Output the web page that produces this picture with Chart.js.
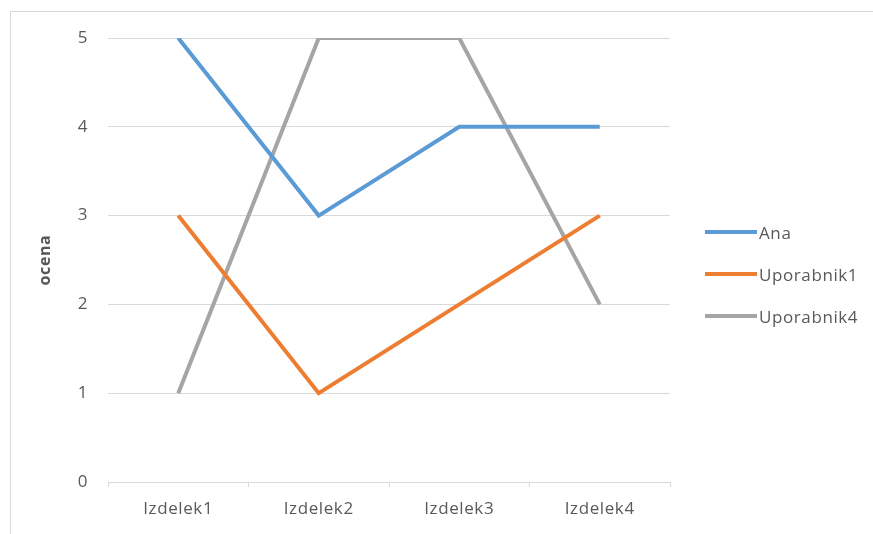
<!DOCTYPE html>
<html>
<head>
<meta charset="utf-8">
<script src="https://cdn.jsdelivr.net/npm/chart.js@4"></script>
<style>
    html, body { margin: 0; padding: 0; background: #fff; overflow: hidden; }
    #frame {
        position: absolute; left: 10px; top: 11px; width: 900px; height: 600px;
        border-left: 1px solid #d9d9d9; border-top: 1px solid #d9d9d9;
    }
    #chart { position: absolute; left: 0; top: 0; }
    #legend {
        position: absolute; left: 705px; top: 211px;
        font-family: "Open Sans", sans-serif; font-size: 17px; color: #595959;
        letter-spacing: 0.6px;
    }
    .item { display: flex; align-items: center; height: 42px; }
    .swatch { width: 52px; height: 4px; margin-right: 2px; }
</style>
</head>
<body>
<div id="frame"></div>
<canvas id="chart" width="873" height="534"></canvas>
<div id="legend"></div>
<script>
const categories = ['Izdelek1', 'Izdelek2', 'Izdelek3', 'Izdelek4'];
const seriesNames = ['Ana', 'Uporabnik1', 'Uporabnik4'];
const anaValues = [5, 3, 4, 4];
const uporabnik1Values = [3, 1, 2, 3];
const uporabnik4Values = [1, 5, 5, 2];
const seriesColors = ['#5b9bd5', '#ed7d31', '#a5a5a5'];
const yTicks = [0, 1, 2, 3, 4, 5];

document.addEventListener('DOMContentLoaded', function () {
    const textColor = '#595959';
    const lineColor = '#d9d9d9';
    const font = { family: '"Open Sans", sans-serif', size: 17 };

    const allValues = [anaValues, uporabnik1Values, uporabnik4Values];
    const datasets = seriesNames.map((name, i) => ({
        label: name,
        data: allValues[i],
        borderColor: seriesColors[i],
        backgroundColor: seriesColors[i],
        borderWidth: 4,
        pointRadius: 0,
        tension: 0
    }));

    // wider letter spacing, like the original
    const spacing = {
        id: 'spacing',
        beforeLayout: chart => { chart.ctx.letterSpacing = '0.6px'; }
    };

    new Chart(document.getElementById('chart'), {
        type: 'line',
        data: { labels: categories, datasets: datasets },
        plugins: [spacing],
        options: {
            responsive: false,
            animation: false,
            devicePixelRatio: 1,
            layout: { padding: { left: 0, top: 38, right: 203, bottom: 0 } },
            plugins: { legend: { display: false }, tooltip: { enabled: false } },
            scales: {
                x: {
                    offset: true,
                    grid: { offset: true, drawOnChartArea: false, drawTicks: true, tickLength: 5, color: lineColor },
                    border: { color: lineColor },
                    ticks: { color: textColor, font: font, padding: 12 },
                    afterFit: scale => { scale.height = 52; }
                },
                y: {
                    min: yTicks[0],
                    max: yTicks[yTicks.length - 1],
                    afterBuildTicks: scale => { scale.ticks = yTicks.map(v => ({ value: v })); },
                    grid: { color: lineColor, drawTicks: false },
                    border: { display: false },
                    ticks: { color: textColor, font: font, padding: 20 },
                    title: {
                        display: true, text: 'ocena', color: textColor,
                        font: { family: '"Open Sans", sans-serif', size: 16, weight: 'bold' },
                        padding: { top: 36, bottom: 0 }
                    },
                    afterFit: scale => { scale.width = 108; }
                }
            }
        }
    });

    const legend = document.getElementById('legend');
    seriesNames.forEach((name, i) => {
        const item = document.createElement('div');
        item.className = 'item';
        const swatch = document.createElement('span');
        swatch.className = 'swatch';
        swatch.style.background = seriesColors[i];
        const label = document.createElement('span');
        label.textContent = name;
        item.appendChild(swatch);
        item.appendChild(label);
        legend.appendChild(item);
    });
});
</script>
</body>
</html>
